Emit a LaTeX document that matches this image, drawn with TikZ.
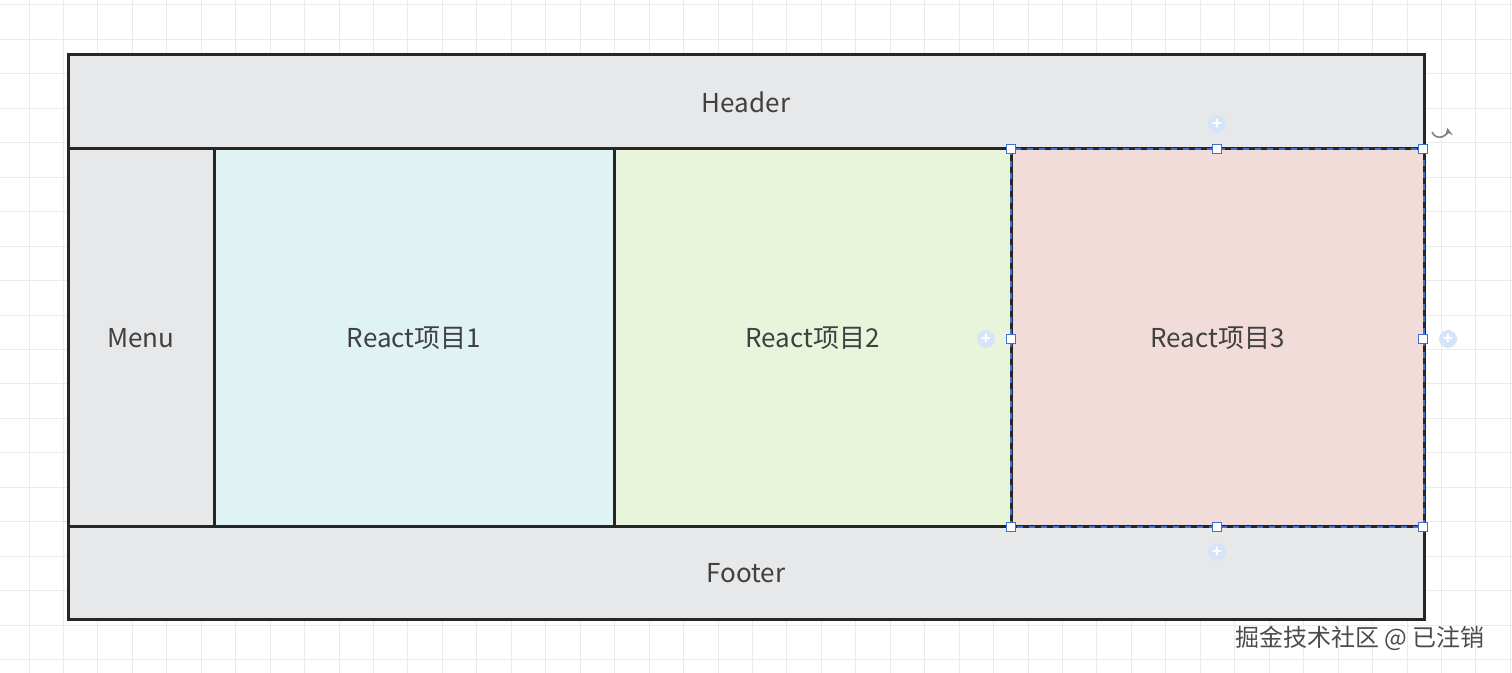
\documentclass[tikz,border=0pt]{standalone}
\usepackage{fontspec}
\setmainfont{Noto Sans CJK SC}
\definecolor{hdr}{HTML}{E7E8EA}
\definecolor{ra}{HTML}{DFF3F4}
\definecolor{rb}{HTML}{E8F5DB}
\definecolor{rc}{HTML}{F2DCD9}
\definecolor{sel}{HTML}{3F6FD0}
\definecolor{pl}{HTML}{D6E4F8}
\begin{document}
\begin{tikzpicture}[x=0.5pt,y=-0.5pt,
  box/.style={draw=black!85,line width=1.5pt},
  lbl/.style={font=\fontsize{13}{15}\selectfont,text=black!75},
  handle/.style={draw=sel,fill=white,line width=0.5pt,minimum size=4.5pt,inner sep=0pt,rectangle},
  plus/.style={circle,fill=pl,minimum size=9pt,inner sep=0pt,text=white,font=\bfseries\footnotesize}]
\useasboundingbox (0,0) rectangle (1512,673);
\fill[white] (0,0) rectangle (1512,673);
\foreach \i in {0,...,43} \draw[black!8,line width=0.5pt] (29+34.45*\i,0) -- (29+34.45*\i,673);
\foreach \j in {0,...,19} \draw[black!8,line width=0.5pt] (0,5+34.45*\j) -- (1512,5+34.45*\j);
\draw[box,fill=hdr] (68,55) rectangle node[lbl] (h) {Header} (1424,149);
\draw[box,fill=hdr] (68,527) rectangle node[lbl] (f) {Footer} (1424,620);
\draw[box,fill=hdr] (68,149) rectangle node[lbl] (m) {Menu} (214,527);
\draw[box,fill=ra] (214,149) rectangle node[lbl] (r1) {React项目1} (614,527);
\draw[box,fill=rb] (614,149) rectangle node[lbl] (r2) {React项目2} (1011,527);
\draw[box,fill=rc] (1011,149) rectangle node[lbl] (r3) {React项目3} (1424,527);
\draw[sel,dashed,line width=0.6pt] (1011,149) rectangle (1424,527);
\foreach \p in {(1011,149),(1217,149),(1423,149),(1011,339),(1423,339),(1011,527),(1217,527),(1423,527)}
  \node[handle] at \p {};
\node[plus] (p1) at (1217,124) {+};
\node[plus] (p2) at (1217,552) {+};
\node[plus] (p3) at (986,339) {+};
\node[plus] (p4) at (1448,339) {+};
\draw[gray,line width=0.8pt,-stealth] (1432,132) arc[start angle=160,end angle=-10,radius=8];
\node[font=\fontsize{12}{14}\selectfont,text=black!70,anchor=east] (wm) at (1492,638) {掘金技术社区 @ 已注销};
\end{tikzpicture}
\end{document}
